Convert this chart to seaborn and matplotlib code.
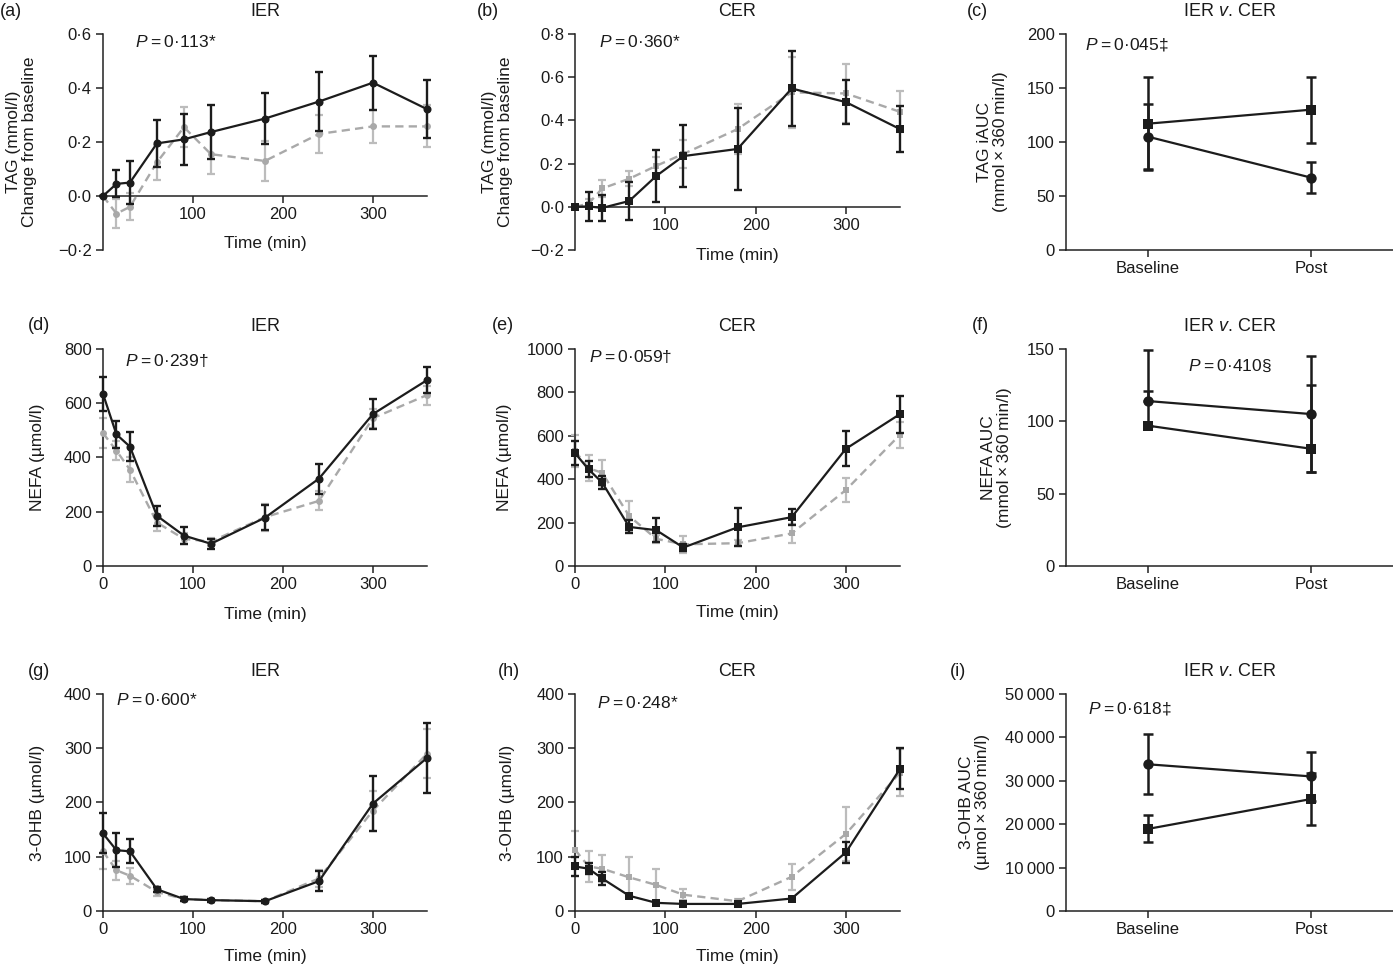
import matplotlib
matplotlib.use("Agg")
import matplotlib.pyplot as plt
from matplotlib.ticker import FuncFormatter
import seaborn as sns

# ── Data ────────────────────────────────────────────────
TIME = [0, 15, 30, 60, 90, 120, 180, 240, 300, 360]
VISITS = ["Baseline", "Post"]

# TAG change from baseline (mmol/l)
tag_ier_base = [0, 0.045, 0.05, 0.195, 0.21, 0.237, 0.287, 0.35, 0.42, 0.322]
tag_ier_base_err = [0, 0.05, 0.08, 0.088, 0.095, 0.1, 0.095, 0.11, 0.1, 0.108]
tag_ier_post = [0, -0.065, -0.04, 0.125, 0.255, 0.155, 0.13, 0.23, 0.258, 0.258]
tag_ier_post_err = [0, 0.055, 0.05, 0.065, 0.075, 0.075, 0.075, 0.07, 0.06, 0.078]
tag_cer_base = [0, 0.002, -0.005, 0.027, 0.143, 0.235, 0.268, 0.548, 0.485, 0.36]
tag_cer_base_err = [0, 0.066, 0.062, 0.088, 0.12, 0.145, 0.19, 0.175, 0.103, 0.108]
tag_cer_post = [0, 0.015, 0.085, 0.13, 0.19, 0.245, 0.36, 0.53, 0.525, 0.44]
tag_cer_post_err = [0, 0.02, 0.04, 0.035, 0.04, 0.065, 0.115, 0.165, 0.135, 0.095]

# NEFA (µmol/l)
nefa_ier_base = [635, 485, 440, 185, 112, 82, 178, 322, 560, 685]
nefa_ier_base_err = [63, 50, 53, 37, 30, 18, 47, 55, 55, 48]
nefa_ier_post = [490, 425, 355, 160, 100, 90, 180, 240, 545, 630]
nefa_ier_post_err = [55, 35, 45, 30, 20, 15, 50, 35, 35, 35]
nefa_cer_base = [520, 445, 385, 180, 165, 85, 178, 225, 540, 700]
nefa_cer_base_err = [55, 37, 30, 30, 55, 15, 87, 37, 80, 85]
nefa_cer_post = [530, 450, 430, 230, 125, 100, 105, 150, 350, 605]
nefa_cer_post_err = [75, 60, 60, 70, 20, 40, 15, 45, 55, 60]

# 3-OHB (µmol/l)
ohb_ier_base = [143, 112, 110, 40, 22, 20, 18, 55, 198, 282]
ohb_ier_base_err = [37, 31, 22, 5, 3, 3, 3, 18, 50, 65]
ohb_ier_post = [110, 75, 65, 35, 22, 20, 18, 60, 185, 290]
ohb_ier_post_err = [32, 18, 15, 8, 3, 3, 3, 15, 37, 45]
ohb_cer_base = [82, 78, 60, 28, 15, 13, 13, 23, 108, 262]
ohb_cer_base_err = [18, 10, 12, 3, 3, 3, 3, 3, 20, 38]
ohb_cer_post = [113, 82, 78, 62, 48, 30, 18, 63, 142, 255]
ohb_cer_post_err = [35, 28, 25, 38, 30, 10, 5, 24, 50, 43]

# AUC, baseline v. post ([lower errors], [upper errors])
tag_auc_ier = [105, 67]
tag_auc_ier_err = ([30, 14.5], [30, 14.5])
tag_auc_cer = [117, 130]
tag_auc_cer_err = ([43, 30.5], [43, 30.5])
nefa_auc_ier = [114, 105]
nefa_auc_ier_err = ([0, 40], [35, 40])
nefa_auc_cer = [97, 81]
nefa_auc_cer_err = ([0, 16], [24, 44])
ohb_auc_ier = [33800, 31000]
ohb_auc_ier_err = ([6900, 5600], [7000, 5600])
ohb_auc_cer = [18900, 25800]
ohb_auc_cer_err = ([3100, 5900], [3100, 5900])

# ── Style ───────────────────────────────────────────────
sns.set_theme(style="ticks")
plt.rcParams["font.family"] = ["Liberation Sans", "DejaVu Sans"]
plt.rcParams["mathtext.fontset"] = "custom"
plt.rcParams["mathtext.rm"] = "Liberation Sans"
plt.rcParams["mathtext.it"] = "Liberation Sans:italic"
plt.rcParams["axes.linewidth"] = 1.1
plt.rcParams["axes.edgecolor"] = "#222222"

BLACK = "#1c1c1c"
GREY = "#a9a9a9"
GREY_ERR = "#bcbcbc"
DASH = (0, (3.5, 2.2))
TXT = "#1a1a1a"

fmt_dec = FuncFormatter(lambda v, p: f"{v:.1f}".replace(".", "·").replace("-", "−"))
fmt_int = FuncFormatter(lambda v, p: f"{v:.0f}")
fmt_thou = FuncFormatter(lambda v, p: f"{v:,.0f}".replace(",", "\u2009"))


def unclip(container):
    for art in list(container.lines[1]) + list(container.lines[2]):
        art.set_clip_on(False)


def style_axes(ax):
    sns.despine(ax=ax)
    ax.tick_params(direction="out", length=5, width=1.1, labelsize=12,
                   colors="#222222", labelcolor=TXT, pad=3)


def time_panel(ax, base, base_err, post, post_err, marker):
    # post (grey, dashed) behind baseline (black, solid)
    eb = ax.errorbar(TIME, post, yerr=post_err, fmt="none", ecolor=GREY_ERR,
                     elinewidth=1.6, capsize=3, capthick=1.6, zorder=2)
    unclip(eb)
    sns.lineplot(x=TIME, y=post, ax=ax, color=GREY, linestyle=DASH, linewidth=1.7,
                 marker=marker, markersize=5, markeredgewidth=0, clip_on=False,
                 zorder=3)
    eb = ax.errorbar(TIME, base, yerr=base_err, fmt="none", ecolor=BLACK,
                     elinewidth=1.7, capsize=3.2, capthick=1.7, zorder=4)
    unclip(eb)
    sns.lineplot(x=TIME, y=base, ax=ax, color=BLACK, linewidth=1.6,
                 marker=marker, markersize=5.8, markeredgewidth=0, clip_on=False,
                 zorder=5)
    ax.set_xlim(0, 360)
    style_axes(ax)


def auc_panel(ax, ier, ier_err, cer, cer_err):
    xs = [0, 1]
    for vals, err, mk, ms in [(cer, cer_err, "s", 7), (ier, ier_err, "o", 7.5)]:
        eb = ax.errorbar(xs, vals, yerr=[err[0], err[1]], fmt="none", ecolor=BLACK,
                         elinewidth=1.8, capsize=3.5, capthick=1.8, zorder=3)
        unclip(eb)
        sns.lineplot(x=xs, y=vals, ax=ax, color=BLACK, linewidth=1.6, marker=mk,
                     markersize=ms, markeredgewidth=0, clip_on=False, zorder=4)
    ax.set_xlim(-0.5, 1.5)
    ax.set_xticks(xs)
    ax.set_xticklabels(VISITS)
    style_axes(ax)


# ── Figure ──────────────────────────────────────────────
fig = plt.figure(figsize=(13.93, 9.68), dpi=100)
COL_L = [0.0739, 0.4128, 0.7653]
COL_W = [0.2326, 0.2333, 0.2347]
ROW_B = [0.7417, 0.4153, 0.0589]
ROW_H = [0.2231, 0.2242, 0.2242]
axes = [[fig.add_axes([COL_L[c], ROW_B[r], COL_W[c], ROW_H[r]]) for c in range(3)]
        for r in range(3)]

# row 1 – TAG
ax = axes[0][0]
time_panel(ax, tag_ier_base, tag_ier_base_err, tag_ier_post, tag_ier_post_err, "o")
ax.set_ylim(-0.2, 0.6)
ax.set_yticks([-0.2, 0, 0.2, 0.4, 0.6])
ax.yaxis.set_major_formatter(fmt_dec)

ax = axes[0][1]
time_panel(ax, tag_cer_base, tag_cer_base_err, tag_cer_post, tag_cer_post_err, "s")
ax.set_ylim(-0.2, 0.8)
ax.set_yticks([-0.2, 0, 0.2, 0.4, 0.6, 0.8])
ax.yaxis.set_major_formatter(fmt_dec)

for ax in axes[0][:2]:
    ax.spines["bottom"].set_position(("data", 0))
    ax.set_xticks([100, 200, 300])
    ax.set_ylabel("TAG (mmol/l)\nChange from baseline", fontsize=12.5,
                  linespacing=1.1, color=TXT)

ax = axes[0][2]
auc_panel(ax, tag_auc_ier, tag_auc_ier_err, tag_auc_cer, tag_auc_cer_err)
ax.set_ylim(0, 200)
ax.set_yticks([0, 50, 100, 150, 200])
ax.set_ylabel("TAG iAUC\n(mmol\u2009×\u2009360\u2009min/l)", fontsize=12.5,
              linespacing=1.1, color=TXT)

# row 2 – NEFA
ax = axes[1][0]
time_panel(ax, nefa_ier_base, nefa_ier_base_err, nefa_ier_post, nefa_ier_post_err, "o")
ax.set_ylim(0, 800)
ax.set_yticks([0, 200, 400, 600, 800])

ax = axes[1][1]
time_panel(ax, nefa_cer_base, nefa_cer_base_err, nefa_cer_post, nefa_cer_post_err, "s")
ax.set_ylim(0, 1000)
ax.set_yticks([0, 200, 400, 600, 800, 1000])

for ax in axes[1][:2]:
    ax.set_ylabel("NEFA (µmol/l)", fontsize=12.5, color=TXT)

ax = axes[1][2]
auc_panel(ax, nefa_auc_ier, nefa_auc_ier_err, nefa_auc_cer, nefa_auc_cer_err)
ax.set_ylim(0, 150)
ax.set_yticks([0, 50, 100, 150])
ax.set_ylabel("NEFA AUC\n(mmol\u2009×\u2009360\u2009min/l)", fontsize=12.5,
              linespacing=1.1, color=TXT)

# row 3 – 3-OHB
ax = axes[2][0]
time_panel(ax, ohb_ier_base, ohb_ier_base_err, ohb_ier_post, ohb_ier_post_err, "o")
ax = axes[2][1]
time_panel(ax, ohb_cer_base, ohb_cer_base_err, ohb_cer_post, ohb_cer_post_err, "s")
for ax in axes[2][:2]:
    ax.set_ylim(0, 400)
    ax.set_yticks([0, 100, 200, 300, 400])
    ax.set_ylabel("3-OHB (µmol/l)", fontsize=12.5, color=TXT)

ax = axes[2][2]
auc_panel(ax, ohb_auc_ier, ohb_auc_ier_err, ohb_auc_cer, ohb_auc_cer_err)
ax.set_ylim(0, 50000)
ax.set_yticks([0, 10000, 20000, 30000, 40000, 50000])
ax.yaxis.set_major_formatter(fmt_thou)
ax.set_ylabel("3-OHB AUC\n(µmol\u2009×\u2009360\u2009min/l)", fontsize=12.5,
              linespacing=1.1, color=TXT)

for r in (1, 2):
    for c in (0, 1):
        axes[r][c].set_xticks([0, 100, 200, 300])

for r in range(3):
    for c in range(3):
        if not (r == 0 and c < 2) and not (r == 2 and c == 2):
            axes[r][c].yaxis.set_major_formatter(fmt_int)
        if c < 2:
            axes[r][c].set_xlabel("Time (min)", fontsize=12.5, color=TXT)

# axis label positions (axes fraction)
YLAB_X = [[-0.204, -0.19, -0.177], [-0.179, -0.194, -0.166], [-0.179, -0.185, -0.232]]
XLAB_Y = [[0.065, 0.009], [-0.19, -0.18], [-0.175, -0.175]]
for r in range(3):
    for c in range(3):
        axes[r][c].yaxis.set_label_coords(YLAB_X[r][c], 0.5)
        if c < 2:
            axes[r][c].xaxis.set_label_coords(0.5, XLAB_Y[r][c])

# titles, panel letters, P values
TITLES = ["IER", "CER", r"IER $\it{v}$. CER"]
for r in range(3):
    for c in range(3):
        axes[r][c].text(0.5, 1.105, TITLES[c], transform=axes[r][c].transAxes,
                        ha="center", va="center", fontsize=13, color=TXT)

LETTERS = ["(a)", "(b)", "(c)", "(d)", "(e)", "(f)", "(g)", "(h)", "(i)"]
LETTER_PX = [(0, 12), (477, 12), (967, 12), (28, 325), (492, 325), (972, 325),
             (28, 671), (498, 671), (950, 671)]
for lab, (px, py) in zip(LETTERS, LETTER_PX):
    fig.text(px / 1393, 1 - py / 968, lab, ha="left", va="center", fontsize=13,
             color=TXT)

P_TEXT = ["0·113*", "0·360*", "0·045‡", "0·239†", "0·059†", "0·410§",
          "0·600*", "0·248*", "0·618‡"]
P_POS = [(0.099, 0.963), (0.074, 0.963), (0.058, 0.954), (0.068, 0.949), (0.043, 0.963),
         (0.373, 0.92), (0.04, 0.972), (0.068, 0.958), (0.067, 0.935)]
for i, (txt, (px, py)) in enumerate(zip(P_TEXT, P_POS)):
    ax = axes[i // 3][i % 3]
    ax.text(px, py, r"$\it{P}$" + "\u2009=\u2009" + txt, transform=ax.transAxes,
            ha="left", va="center", fontsize=12.5, color=TXT)

fig.savefig("out.png", dpi=100)
